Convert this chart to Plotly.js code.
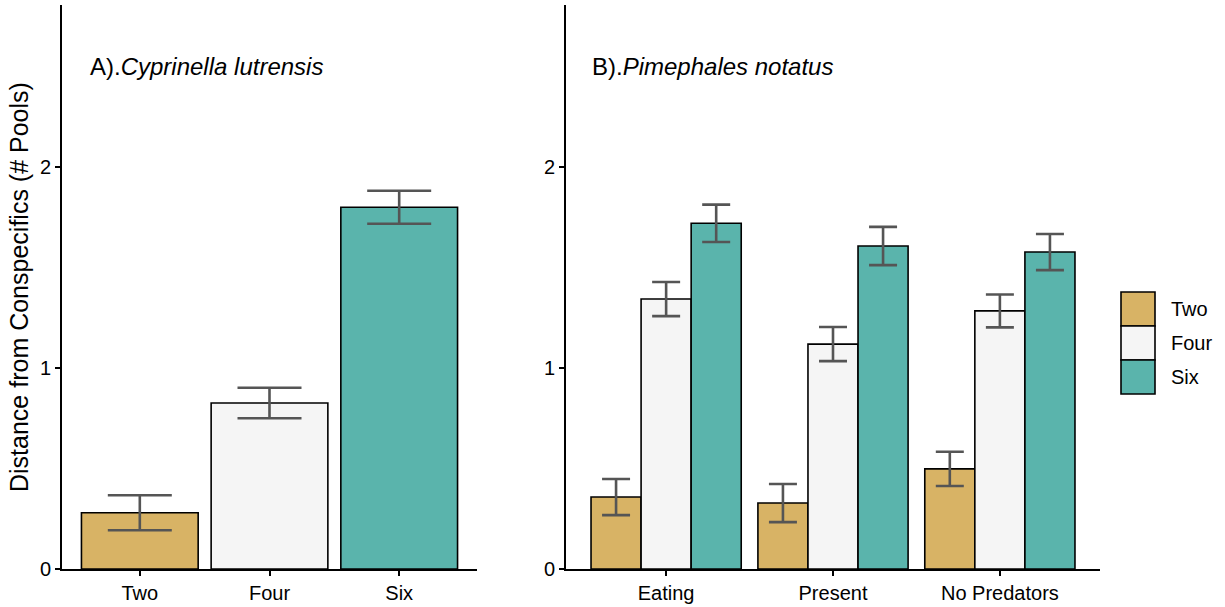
<!DOCTYPE html>
<html>
<head>
<meta charset="utf-8">
<script src="https://cdn.plot.ly/plotly-3.0.1.min.js"></script>
<style>html,body{margin:0;padding:0;background:#fff;}#chart{width:1225px;height:607px;}</style>
</head>
<body>
<div id="chart"></div>
<script>
// Panel A: Cyprinella lutrensis
const groupSizes = ["Two", "Four", "Six"];
const colors = ["#D8B365", "#F5F5F5", "#5AB4AC"];
const aMeans = [0.28, 0.826, 1.80];
const aErr = [0.087, 0.076, 0.082];

// Panel B: Pimephales notatus
const treatments = ["Eating", "Present", "No Predators"];
const bTwo = [0.358, 0.328, 0.498];
const bTwoErr = [0.09, 0.095, 0.085];
const bFour = [1.343, 1.119, 1.284];
const bFourErr = [0.085, 0.085, 0.082];
const bSix = [1.72, 1.607, 1.577];
const bSixErr = [0.093, 0.095, 0.09];

const yTickVals = [0, 1, 2];
const yTickText = ["0", "1", "2"];

const FONT = "Arial, 'Liberation Sans', sans-serif";
const errStyle = (arr, w) => ({type: "data", array: arr, visible: true, color: "#555555", thickness: 2.6, width: w});

const traces = [];
traces.push({
  type: "bar", x: groupSizes, y: aMeans, xaxis: "x", yaxis: "y",
  marker: {color: colors, line: {color: "#000", width: 1.6}},
  error_y: errStyle(aErr, 32), showlegend: false, hoverinfo: "x+y"
});
const bSeries = [[bTwo, bTwoErr], [bFour, bFourErr], [bSix, bSixErr]];
bSeries.forEach((s, i) => {
  traces.push({
    type: "bar", name: groupSizes[i], x: treatments, y: s[0], xaxis: "x2", yaxis: "y2",
    marker: {color: colors[i], line: {color: "#000", width: 1.6}},
    error_y: errStyle(s[1], 14), showlegend: false
  });
});

const W = 1225, H = 607;
const yDom = [1 - 569 / H, 1 - 5 / H];
const axisCommon = {
  showline: true, linecolor: "#000", linewidth: 2, showgrid: false, zeroline: false,
  ticks: "outside", ticklen: 5, tickwidth: 2, tickcolor: "#000",
  tickfont: {family: FONT, size: 20, color: "#000"}, fixedrange: true
};

// Custom legend (shapes + annotations)
const legShapes = [];
const legAnn = [];
const legX0 = 1121, legX1 = 1155, legTop = 292, legH = 34;
groupSizes.forEach((g, i) => {
  legShapes.push({type: "rect", xref: "paper", yref: "paper",
    x0: legX0 / W, x1: legX1 / W, y0: 1 - (legTop + (i + 1) * legH) / H, y1: 1 - (legTop + i * legH) / H,
    fillcolor: colors[i], line: {color: "#000", width: 1.6}});
  legAnn.push({xref: "paper", yref: "paper", x: 1169 / W, y: 1 - (legTop + (i + 0.5) * legH) / H,
    xanchor: "left", yanchor: "middle", text: g, showarrow: false,
    font: {family: FONT, size: 20, color: "#000"}});
});

const layout = {
  width: W, height: H,
  margin: {l: 0, r: 0, t: 0, b: 0},
  paper_bgcolor: "#fff", plot_bgcolor: "#fff",
  showlegend: false,
  barmode: "group", bargap: 0.1, bargroupgap: 0,
  xaxis: Object.assign({}, axisCommon, {domain: [62 / W, 477 / W], anchor: "y", range: [-0.6, 2.6], type: "category"}),
  yaxis: Object.assign({}, axisCommon, {domain: yDom, anchor: "x", range: [0, 2.806], tickvals: yTickVals, ticktext: yTickText}),
  xaxis2: Object.assign({}, axisCommon, {domain: [566 / W, 1100 / W], anchor: "y2", range: [-0.6, 2.6], type: "category"}),
  yaxis2: Object.assign({}, axisCommon, {domain: yDom, anchor: "x2", range: [0, 2.806], tickvals: yTickVals, ticktext: yTickText}),
  shapes: legShapes,
  annotations: [
    {xref: "paper", yref: "paper", x: 19 / W, y: 1 - 287 / H, xanchor: "center", yanchor: "middle", showarrow: false,
     textangle: -90, text: "Distance from Conspecifics (# Pools)", font: {family: FONT, size: 25, color: "#000"}},
    {xref: "paper", yref: "paper", x: 88 / W, y: 1 - 66 / H, xanchor: "left", yanchor: "middle", showarrow: false,
     text: "A).<i>Cyprinella lutrensis</i>", font: {family: FONT, size: 24, color: "#000"}},
    {xref: "paper", yref: "paper", x: 590 / W, y: 1 - 66 / H, xanchor: "left", yanchor: "middle", showarrow: false,
     text: "B).<i>Pimephales notatus</i>", font: {family: FONT, size: 24, color: "#000"}}
  ].concat(legAnn)
};

Plotly.newPlot("chart", traces, layout, {displayModeBar: false, staticPlot: true});
</script>
</body>
</html>
